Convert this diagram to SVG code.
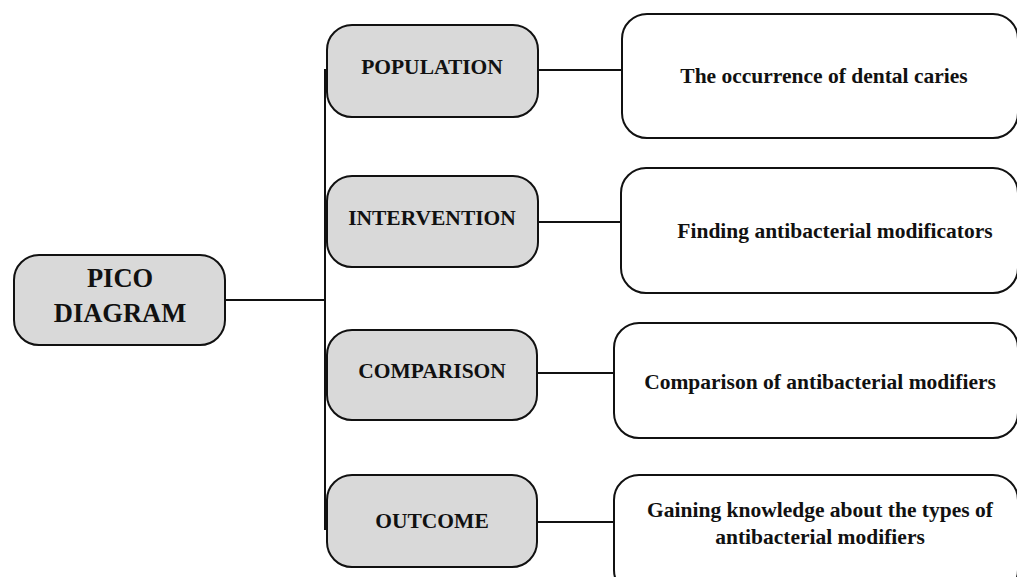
<svg xmlns="http://www.w3.org/2000/svg" width="1017" height="577" viewBox="0 0 1017 577">
<style>
.lbox{fill:#d9d9d9;stroke:#111;stroke-width:2}
.rbox{fill:#fff;stroke:#111;stroke-width:2}
.t{font-family:"Liberation Serif","Times New Roman",serif;font-weight:bold;fill:#111;text-anchor:middle}
.lt{font-size:21.5px}
.rt{font-size:21.5px}
.big{font-size:26.5px}
.c{stroke:#111;stroke-width:2;fill:none}
</style>
<rect width="1017" height="577" fill="#fff"/>
<g id="connectors">
<line class="c" x1="325" y1="69" x2="325" y2="530"/>
<line class="c" x1="225" y1="300" x2="325" y2="300"/>
<line class="c" x1="538" y1="70" x2="622" y2="70"/>
<line class="c" x1="538" y1="222" x2="621" y2="222"/>
<line class="c" x1="537" y1="373" x2="614" y2="373"/>
<line class="c" x1="537" y1="522" x2="614" y2="522"/>
</g>
<g id="pico">
<rect class="lbox" x="14" y="255" width="211" height="90" rx="25"/>
<text class="t big" x="120" y="287">PICO</text>
<text class="t big" x="120" y="322">DIAGRAM</text>
</g>
<g id="population">
<rect class="lbox" x="327" y="25" width="211" height="92" rx="25"/>
<text class="t lt" x="432" y="74">POPULATION</text>
</g>
<g id="intervention">
<rect class="lbox" x="327" y="176" width="211" height="91" rx="25"/>
<text class="t lt" x="432" y="225">INTERVENTION</text>
</g>
<g id="comparison">
<rect class="lbox" x="327" y="330" width="210" height="90" rx="25"/>
<text class="t lt" x="432" y="378">COMPARISON</text>
</g>
<g id="outcome">
<rect class="lbox" x="327" y="475" width="210" height="92" rx="25"/>
<text class="t lt" x="432" y="528">OUTCOME</text>
</g>
<g id="population-detail">
<rect class="rbox" x="622" y="14" width="396" height="124" rx="25"/>
<text class="t rt" x="824" y="83">The occurrence of dental caries</text>
</g>
<g id="intervention-detail">
<rect class="rbox" x="621" y="168" width="397" height="125" rx="25"/>
<text class="t rt" x="835" y="238">Finding antibacterial modificators</text>
</g>
<g id="comparison-detail">
<rect class="rbox" x="614" y="323" width="404" height="115" rx="25"/>
<text class="t rt" x="820" y="389">Comparison of antibacterial modifiers</text>
</g>
<g id="outcome-detail">
<rect class="rbox" x="614" y="475" width="404" height="120" rx="25"/>
<text class="t rt" x="820" y="517">Gaining knowledge about the types of</text>
<text class="t rt" x="820" y="544">antibacterial modifiers</text>
</g>
</svg>
